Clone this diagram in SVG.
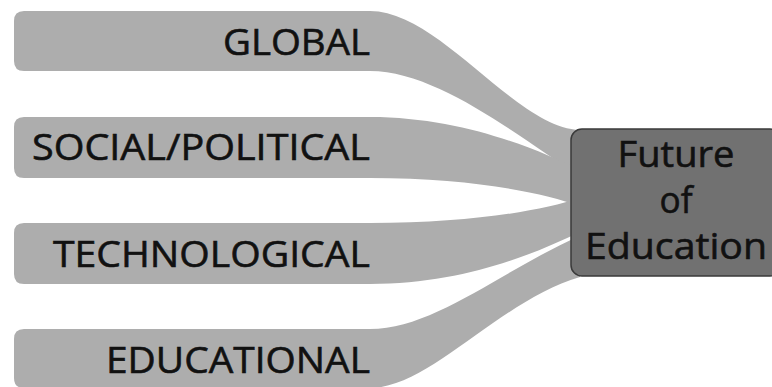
<svg xmlns="http://www.w3.org/2000/svg" width="772" height="387" viewBox="0 0 772 387">
<style>
.rib{fill:#adadad;stroke:none}
.lbl{font-family:"Open Sans","Liberation Sans",sans-serif;font-size:37px;fill:#111;stroke:#111;stroke-width:0.6;text-anchor:end}
.ctr{font-family:"Open Sans","Liberation Sans",sans-serif;font-size:37px;fill:#111;stroke:#111;stroke-width:0.6;text-anchor:middle}
.box{fill:#717171;stroke:#3a3a3a;stroke-width:1.5}
</style>
<rect width="772" height="387" fill="#fff"/>
<g id="connectors">
<path class="rib" d="M24,11 H370 C440,11 515,128 580,130 L580,176 C525,142 440,71 370,71 H24 Q14,71 14,61 V21 Q14,11 24,11 Z"/>
<path class="rib" d="M24,117 H370 C460,117 535,148 580,170 L580,206 C540,192 470,178 370,178 H24 Q14,178 14,168 V127 Q14,117 24,117 Z"/>
<path class="rib" d="M24,223 H370 C470,223 540,211 580,198 L580,232 C530,256 460,284 370,284 H24 Q14,284 14,274 V233 Q14,223 24,223 Z"/>
<path class="rib" d="M24,329 H370 C435,329 505,268 580,236 L580,277 C500,300 430,388 370,388 H24 Q14,388 14,378 V339 Q14,329 24,329 Z"/>
</g>
<g id="global"><text class="lbl" x="370" y="55" textLength="147" lengthAdjust="spacingAndGlyphs">GLOBAL</text></g>
<g id="social"><text class="lbl" x="370" y="160" textLength="338" lengthAdjust="spacingAndGlyphs">SOCIAL/POLITICAL</text></g>
<g id="technological"><text class="lbl" x="370" y="267" textLength="317" lengthAdjust="spacingAndGlyphs">TECHNOLOGICAL</text></g>
<g id="educational"><text class="lbl" x="370" y="373" textLength="264" lengthAdjust="spacingAndGlyphs">EDUCATIONAL</text></g>
<g id="future">
<rect class="box" x="571" y="129" width="210" height="147" rx="11"/>
<text class="ctr" x="676" y="167" textLength="117" lengthAdjust="spacingAndGlyphs">Future</text>
<text class="ctr" x="676" y="213" textLength="33" lengthAdjust="spacingAndGlyphs">of</text>
<text class="ctr" x="676" y="259" textLength="182" lengthAdjust="spacingAndGlyphs">Education</text>
</g>
</svg>
